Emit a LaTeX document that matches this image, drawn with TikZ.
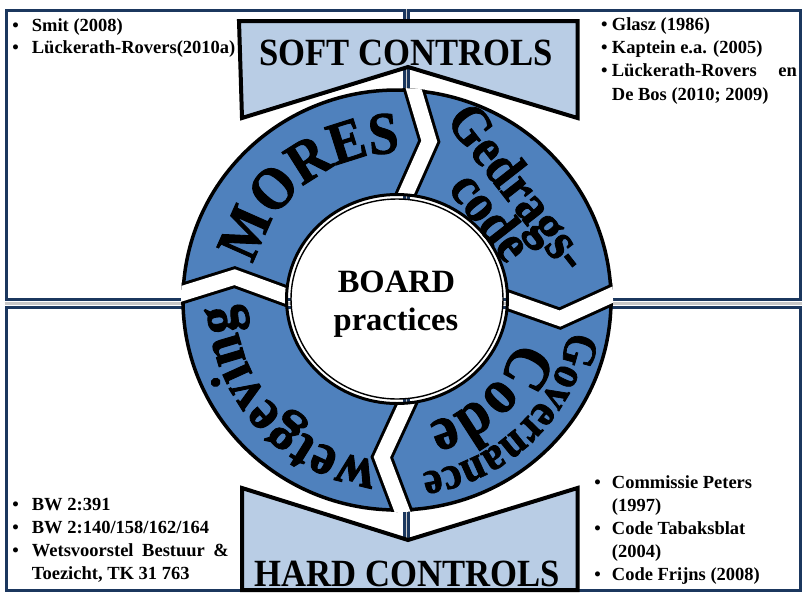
\documentclass[tikz,border=0pt]{standalone}
\usepackage{fontspec}
\setmainfont{Liberation Serif}
% tall, heavy serif for the lettering on the ring
\newfontfamily\ringfont{Liberation Serif}[FakeStretch=0.9, FakeBold=1.5]
% slightly condensed serif for the two banners
\newfontfamily\bannerfont{Liberation Serif}[FakeStretch=0.9]
\usetikzlibrary{calc,decorations.text}

\definecolor{segblue}{RGB}{79,129,189}
\definecolor{bannerfill}{RGB}{185,205,229}
\definecolor{framenavy}{RGB}{27,55,94}
\definecolor{seamgray}{RGB}{200,200,200}

% bullet columns of the reference lists
\newcommand{\bulA}{\makebox[19.4pt][l]{\textbullet}}
\newcommand{\bulB}{\makebox[10.9pt][l]{\textbullet}}
\newcommand{\bulC}{\makebox[17.6pt][l]{\textbullet}}

% the four quadrant frames and the seams between them
\newcommand{\quadframes}{%
  \draw[quadframe] (6,10.7) rectangle (404,299);
  \draw[quadframe] (408.7,10.7) rectangle (800.5,299);
  \draw[quadframe] (6,307) rectangle (404,590);
  \draw[quadframe] (408.7,307) rectangle (800.5,590);
  \draw[seam, line width=3pt] (4.5,303) -- (802,303);
  \draw[seam, line width=1.6pt] (406.3,9) -- (406.3,592);
}

\begin{document}
\begin{tikzpicture}[x=1pt, y=-1pt,
  quadframe/.style={draw=framenavy, line width=3pt},
  seam/.style={draw=seamgray},
  banner/.style={draw=black, fill=bannerfill, line width=4pt, line join=miter},
  bannertext/.style={font=\bannerfont\fontsize{38.5}{44}\selectfont\bfseries, inner sep=0pt, anchor=base},
  centertext/.style={font=\fontsize{32.5}{38}\selectfont\bfseries, inner sep=0pt, anchor=base},
  reftext/.style={font=\fontsize{18.5}{23}\selectfont\bfseries, inner sep=0pt, anchor=base west},
  gapedge/.style={draw=black, line width=21pt, line join=miter},
  gapfill/.style={draw=white, line width=15pt, line join=miter},
  slanttext/.style={font=\ringfont\fontsize{55}{60}\selectfont\bfseries, inner sep=0pt, anchor=base, rotate=-52},
]
\useasboundingbox (0,0) rectangle (802,595);
\fill[white] (0,0) rectangle (802,595);

\quadframes

% ---- blue ring with four chevron-shaped gaps ----
\begin{scope}[shift={(397,300)}, y=1pt]
  \fill[segblue] (0,0) ellipse[x radius=214pt, y radius=210pt];
  \draw[line width=3.5pt] (0,0) ellipse[x radius=214pt, y radius=210pt];
  % gap polylines: inner end, bend, outer end
  \coordinate (gt-I) at (85.5:105pt);
  \coordinate (gt-M) at (78.5:162pt);
  \coordinate (gt-O) at (85.5:212pt);
  \coordinate (gr-I) at (1:105pt);
  \coordinate (gr-M) at (-6.5:164pt);
  \coordinate (gr-O) at (1:212pt);
  \coordinate (gb-I) at (-85:105pt);
  \coordinate (gb-M) at (-95.5:158pt);
  \coordinate (gb-O) at (-88.5:212pt);
  \coordinate (gl-I) at (179:105pt);
  \coordinate (gl-M) at (172:164pt);
  \coordinate (gl-O) at (178:212pt);
  \begin{scope}
    \clip (0,0) ellipse[x radius=216pt, y radius=212pt];
    \foreach \g in {gt,gr,gb,gl} {
      \draw[gapedge] ($(\g-M)!1.6!(\g-I)$) -- (\g-M) -- ($(\g-M)!1.6!(\g-O)$);
      \draw[gapfill] ($(\g-M)!1.6!(\g-I)$) -- (\g-M) -- ($(\g-M)!1.6!(\g-O)$);
    }
  \end{scope}
\end{scope}

% ---- central disc with double rim ----
\fill[white] (397,299) ellipse[x radius=110.5pt, y radius=104.5pt];
\begin{scope}
  \clip (397,299) ellipse[x radius=110.5pt, y radius=104.5pt];
  \quadframes
\end{scope}
\fill[white] (397,299) ellipse[x radius=106pt, y radius=100pt];
\draw[line width=3pt] (397,299) ellipse[x radius=110.5pt, y radius=104.5pt];
\draw[line width=1.4pt] (397,299) ellipse[x radius=106pt, y radius=100pt];

\node[centertext] (board) at (396.5,292) {BOARD};
\node[centertext] (practices) at (396,330.5) {practices};

% ---- segment labels ----
\begin{scope}[shift={(397,300)}, y=1pt]
  \path[decorate, decoration={text along path, text align=center,
      text={|\ringfont\fontsize{60}{66}\selectfont\bfseries|MORES}}]
    (187.5:147pt) arc[start angle=187.5, end angle=67.5, radius=147pt];
  \path[decorate, decoration={text along path, text align=center,
      text={|\ringfont\fontsize{60}{66}\selectfont\bfseries|wetgeving}}]
    (-77.5:162pt) arc[start angle=-77.5, end angle=-197.5, radius=162pt];
  \path[decorate, decoration={text along path, text align=center,
      text={|\ringfont\fontsize{47}{52}\selectfont\bfseries|Governance}}]
    (14:174.5pt) arc[start angle=14, end angle=-106, radius=174.5pt];
  \path[decorate, decoration={text along path, text align=center,
      text={|\ringfont\fontsize{64}{70}\selectfont\bfseries|Code}}]
    (13:127pt) arc[start angle=13, end angle=-107, radius=127pt];
  \node[slanttext] (gedrags) at (108,102) {Gedrags-};
  \node[slanttext] (gcode) at (80,73) {code};
\end{scope}

% ---- banners ----
\draw[banner] (239,21) -- (577.5,21) -- (577.5,118) -- (408,67) -- (242,118) -- cycle;
\node[bannertext] (softlabel) at (406,65) {SOFT CONTROLS};
\draw[banner] (242,488) -- (408,540) -- (577.5,488) -- (577.5,590) -- (242,590) -- cycle;
\node[bannertext] (hardlabel) at (407.5,586) {HARD CONTROLS};

% ---- reference lists ----
\node[reftext] (tl1) at (12.3,31) {\bulA Smit (2008)};
\node[reftext] (tl2) at (12.3,53.5) {\bulA Lückerath-Rovers(2010a)};

\node[reftext] (tr1) at (600.8,30) {\bulB Glasz (1986)};
\node[reftext] (tr2) at (600.8,53.3) {\bulB Kaptein e.a. (2005)};
\node[reftext] (tr3) at (600.8,76.6) {\bulB\makebox[185pt][s]{Lückerath-Rovers en}};
\node[reftext] (tr4) at (600.8,100) {\hspace*{10.9pt}De Bos (2010; 2009)};

\node[reftext] (bl1) at (12.3,510) {\bulA BW 2:391};
\node[reftext] (bl2) at (12.3,533) {\bulA BW 2:140/158/162/164};
\node[reftext] (bl3) at (12.3,556) {\bulA\makebox[197pt][s]{Wetsvoorstel Bestuur \&}};
\node[reftext] (bl4) at (12.3,579) {\hspace*{19.4pt}Toezicht, TK 31 763};

\node[reftext] (br1) at (594.1,488.3) {\bulC Commissie Peters};
\node[reftext] (br2) at (594.1,511.5) {\hspace*{17.6pt}(1997)};
\node[reftext] (br3) at (594.1,534.5) {\bulC Code Tabaksblat};
\node[reftext] (br4) at (594.1,557.5) {\hspace*{17.6pt}(2004)};
\node[reftext] (br5) at (594.1,580.5) {\bulC Code Frijns (2008)};
\end{tikzpicture}
\end{document}
